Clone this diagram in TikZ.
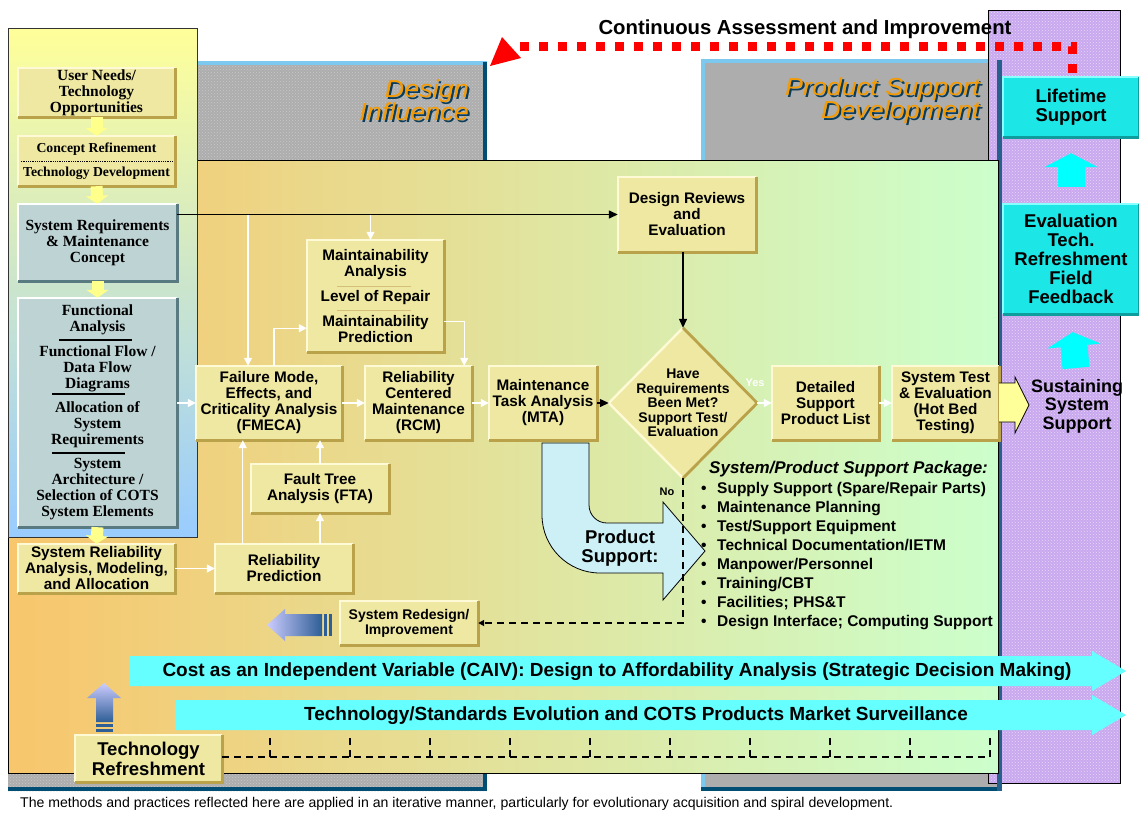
\documentclass[tikz,border=0pt]{standalone}
\usepackage{fontspec}
\setmainfont{Liberation Sans}
\newfontfamily\timesface{Liberation Serif}
\newfontfamily\widesans{Liberation Sans}[FakeStretch=1.1]
\usetikzlibrary{arrows.meta,shapes.geometric,calc,patterns}

\definecolor{boxfill}{HTML}{EEE8A2}
\definecolor{boxlight}{HTML}{FFFAD6}
\definecolor{boxdark}{HTML}{B9A24A}
\definecolor{slatefill}{HTML}{BED3D4}
\definecolor{slatedark}{HTML}{587A80}
\definecolor{cyanfill}{HTML}{1CE6E6}
\definecolor{cyanlight}{HTML}{8AFFFF}
\definecolor{cyandark}{HTML}{0E9C9C}
\definecolor{arrowcyan}{HTML}{00FFFF}
\definecolor{barcyan}{HTML}{66FFFF}
\definecolor{lavender}{HTML}{C9A8EE}
\definecolor{lavdots}{HTML}{E6D8FF}
\definecolor{panelgrey}{HTML}{ADADAD}
\definecolor{greydots}{HTML}{C8C8C8}
\definecolor{edgeblue}{HTML}{7CC8EE}
\definecolor{deepblue}{HTML}{004E74}
\definecolor{titleorange}{HTML}{F59A00}
\definecolor{titleblue}{HTML}{0B3C5A}
\definecolor{psblue}{HTML}{CCF0F6}
\definecolor{sustyellow}{HTML}{FFFF99}
\definecolor{paleyellow}{HTML}{FFFF8C}
\definecolor{dotred}{HTML}{FF0000}
\definecolor{rulegold}{HTML}{D4C078}
\definecolor{fadeblue}{HTML}{CCCCFF}
\definecolor{steelblue}{HTML}{2E5E96}
\definecolor{panelorange}{HTML}{F8C66C}
\definecolor{panelmid}{HTML}{E4E6A2}
\definecolor{panelgreen}{HTML}{CCFFCC}
\definecolor{leftyellow}{HTML}{FFFF99}
\definecolor{leftmid}{HTML}{D8EACC}
\definecolor{leftblue}{HTML}{99CCFF}

% raised-edge look for a rectangular box: light top/left, dark bottom/right
\newcommand{\bevel}[3]{%
  \draw[line width=2pt,#2] (#1.south west) -- (#1.north west) -- (#1.north east);
  \draw[line width=2.6pt,#3] (#1.north east) -- (#1.south east) -- (#1.south west);}
% orange title word with a dark drop shadow behind it
\newcommand{\shadowed}[1]{%
  \makebox[0pt][l]{\smash{\hspace*{2pt}\raisebox{-2pt}{\textcolor{titleblue}{#1}}}}\textcolor{titleorange}{#1}}
% large italic phase-title face with fixed line pitch
\newcommand{\titleface}{\widesans\itshape\fontsize{24.5}{22.5}\selectfont\lineskiplimit=-50pt\relax}

\begin{document}
\begin{tikzpicture}[x=1pt, y=-1pt,
  ybox/.style={fill=boxfill, inner sep=0pt, align=center, font=\bfseries\fontsize{15.3}{16}\selectfont},
  lbox/.style={fill=boxfill, inner sep=0pt, align=center, font=\timesface\bfseries\fontsize{15.5}{16}\selectfont},
  sbox/.style={lbox, fill=slatefill},
  cbox/.style={fill=cyanfill, inner sep=0pt, align=center, font=\bfseries\fontsize{18.5}{19}\selectfont},
  boxsize/.style 2 args={minimum width=#1, minimum height=#2},
  warrow/.style={draw=white, line width=1.3pt, -{Triangle[width=8pt,length=8pt]}},
  barrow/.style={draw=black, line width=1.3pt, -{Triangle[width=8pt,length=9pt]}},
  dashline/.style={draw=black, line width=1.5pt, dash pattern=on 7pt off 5pt},
  palearrow/.style={draw=paleyellow, line width=12pt, -{Triangle[width=22pt,length=8pt]}},
  cyanup/.style={draw=arrowcyan, line width=27pt, -{Triangle[width=53pt,length=14pt]}},
  blackrule/.style={draw=black, line width=1.6pt},
  goldrule/.style={draw=rulegold, line width=1.2pt},
  dotrule/.style={draw=black, line width=0.7pt, dash pattern=on 0.8pt off 1pt},
  titletext/.style={align=right, inner sep=0pt, font=\titleface},
  bartext/.style={font=\bfseries\fontsize{19}{20}\selectfont, inner sep=0pt},
  label/.style={inner sep=0pt, align=center}
  ]
\useasboundingbox (0,0) rectangle (1139,815);
\fill[white] (0,0) rectangle (1139,815);

% ---- backdrop panels ----
% Design Influence slab
\fill[panelgrey] (8,62) rectangle (487,791);
\fill[pattern=crosshatch dots, pattern color=greydots] (8,62) rectangle (487,791);
\fill[edgeblue] (8,61) rectangle (487,65);
\fill[deepblue] (483,62) rectangle (487,791);
\fill[deepblue] (8,787) rectangle (487,791);
% Product Support Development slab
\fill[panelgrey] (701,60) rectangle (1001,791);
\fill[edgeblue] (701,59) rectangle (1001,63);
\fill[edgeblue] (701,60) rectangle (705,791);
\fill[deepblue] (701,787) rectangle (1001,791);
% sustainment column
\fill[lavender] (988,10) rectangle (1120,783);
\fill[pattern=crosshatch dots, pattern color=lavdots] (988,10) rectangle (1120,783);
\draw[line width=0.8pt] (988,10) rectangle (1120,783);
\fill[deepblue!80!lavender] (997,60) rectangle (1002,791);
% main process panel
\shade[left color=panelorange, middle color=panelmid, right color=panelgreen] (8,160) rectangle (998,773);
\draw[line width=0.9pt] (8,160) rectangle (998,773);
% requirements column
\shade[top color=leftyellow, middle color=leftmid, bottom color=leftblue] (8,28) rectangle (197,537);
\draw[line width=0.9pt, black!80] (8,28) rectangle (197,537);

% ---- phase titles ----
\node[titletext, anchor=east] (ditext) at (469,100) {\shadowed{Design}\\\shadowed{Influence}};
\node[titletext, anchor=east] (pstext) at (980,100.5) {\shadowed{Product Support}\\\shadowed{Development}};

% ---- requirements column ----
\node[lbox, boxsize={157}{49}] (un) at (96.5,92.5) {User Needs/\\Technology\\Opportunities};
\bevel{un}{boxlight}{boxdark}
\node[lbox, boxsize={157}{50}, font=\timesface\bfseries\fontsize{13.7}{16}\selectfont] (cr) at (96.5,161) {Concept Refinement\\[7.5pt]Technology Development};
\bevel{cr}{boxlight}{boxdark}
\draw[dotrule] ($(cr.west)+(3,0)$) -- ($(cr.east)+(-3,0)$);
\node[sbox, boxsize={159}{77}] (sr) at (97.5,242.5) {System Requirements\\\& Maintenance\\Concept};
\bevel{sr}{white}{slatedark}
\node[sbox, boxsize={159}{229}] (fa) at (97.5,412.5) {Functional\\Analysis\\[9pt]Functional Flow /\\Data Flow\\Diagrams\\[8pt]Allocation of\\System\\Requirements\\[8pt]System\\Architecture /\\Selection of COTS\\System Elements};
\bevel{fa}{white}{slatedark}
\draw[blackrule] ($(fa.north)+(-38.5,42)$) -- ++(73,0);
\draw[blackrule] ($(fa.north)+(-45.5,96)$) -- ++(73,0);
\draw[blackrule] ($(fa.north)+(-45.5,155)$) -- ++(73,0);
\node[ybox, boxsize={157}{49}] (srel) at (96.5,568.5) {System Reliability\\Analysis, Modeling,\\and Allocation};
\bevel{srel}{boxlight}{boxdark}

\draw[palearrow] (un.south) -- (cr.north);
\draw[palearrow] (cr.south) -- (sr.north);
\draw[palearrow] (sr.south) -- (fa.north);
\draw[palearrow] (fa.south) -- (srel.north);

% ---- analysis boxes ----
\node[ybox, boxsize={138}{49}] (rp) at (284,568.5) {Reliability\\Prediction};
\bevel{rp}{boxlight}{boxdark}
\node[ybox, boxsize={138}{49}] (fta) at (320,488.5) {Fault Tree\\Analysis (FTA)};
\bevel{fta}{boxlight}{boxdark}
\node[ybox, boxsize={146}{74}] (fmeca) at (269,403) {Failure Mode,\\Effects, and\\Criticality Analysis\\(FMECA)};
\bevel{fmeca}{boxlight}{boxdark}
\node[ybox, boxsize={137}{112}] (ma) at (375.5,296) {Maintainability\\Analysis\\[8.5pt]Level of Repair\\[9pt]Maintainability\\Prediction};
\bevel{ma}{boxlight}{boxdark}
\draw[goldrule] ($(ma.north)+(-38.5,47)$) -- ++(74,0);
\draw[goldrule] ($(ma.north)+(-38.5,71)$) -- ++(74,0);
\node[ybox, boxsize={107}{74}] (rcm) at (418.5,403) {Reliability\\Centered\\Maintenance\\(RCM)};
\bevel{rcm}{boxlight}{boxdark}
\node[ybox, boxsize={108}{74}] (mta) at (543,403) {Maintenance\\Task Analysis\\(MTA)};
\bevel{mta}{boxlight}{boxdark}
\node[ybox, boxsize={138}{75}] (dr) at (687,214.5) {Design Reviews\\and\\Evaluation};
\bevel{dr}{boxlight}{boxdark}
\node[diamond, fill=boxfill, minimum width=148, minimum height=150, inner sep=0pt] (dia) at (683,403) {};
\draw[line width=2.4pt, boxlight] (dia.south) -- (dia.west) -- (dia.north);
\draw[line width=2.8pt, boxdark] (dia.north) -- (dia.east) -- (dia.south);
\node[label, font=\bfseries\fontsize{14}{14.5}\selectfont] (diatext) at (dia.center) {Have\\Requirements\\Been Met?\\Support Test/\\Evaluation};
\node[ybox, boxsize={107}{74}] (dsp) at (825.5,403) {Detailed\\Support\\Product List};
\bevel{dsp}{boxlight}{boxdark}
\node[ybox, boxsize={107}{74}] (ste) at (945.5,403) {System Test\\\& Evaluation\\(Hot Bed\\Testing)};
\bevel{ste}{boxlight}{boxdark}
\node[ybox, boxsize={138}{44}, font=\bfseries\fontsize{14}{15}\selectfont] (srd) at (409,623) {System Redesign/\\Improvement};
\bevel{srd}{boxlight}{boxdark}

% ---- flow connectors ----
\draw[barrow] (sr.east |- dr.west) -- (dr.west);
\coordinate (fmtop) at ($(fmeca.north)+(-21,0)$);
\draw[warrow] (fmtop |- dr.west) -- (fmtop);
\coordinate (matop) at ($(ma.north)+(-5,0)$);
\draw[warrow] (matop |- dr.west) -- (matop);
\coordinate (fmout) at ($(fmeca.north)+(5,0)$);
\coordinate (mainlet) at ($(ma.south west)+(0,-24)$);
\draw[warrow] (fmout) |- (mainlet);
\coordinate (maout) at ($(ma.south east)+(0,-31)$);
\coordinate (rcmin) at ($(rcm.north east)+(-8,0)$);
\draw[warrow] (maout) -| (rcmin);
\draw[warrow] (fa.east |- fmeca.west) -- (fmeca.west);
\draw[warrow] (fmeca.east) -- (rcm.west);
\draw[warrow] (rcm.east) -- (mta.west);
\draw[barrow] (mta.east) -- (dia.west);
\draw[warrow] (dia.east) -- (dsp.west);
\draw[warrow] (dsp.east) -- (ste.west);
\draw[warrow] (srel.east) -- (rp.west);
\coordinate (rpleft) at ($(rp.north west)+(28,0)$);
\draw[warrow] (rpleft) -- (rpleft |- fmeca.south);
\draw[warrow] (rp.north -| fta.south) -- (fta.south);
\draw[warrow] (fta.north) -- (fta.north |- fmeca.south);
\draw[barrow] (dia.north |- dr.south) -- (dia.north);
\node[label, text=white, font=\bfseries\fontsize{11}{12}\selectfont] (yes) at (755,383) {Yes};
\node[label, font=\bfseries\fontsize{11}{12}\selectfont] (no) at (667,492) {No};

% ---- product support hand-off ----
\draw[fill=psblue, line width=0.8pt] (542,443) -- (589,443) -- (589,505)
  .. controls (589,515) and (597,523) .. (607,523) -- (663,523) -- (663,502)
  -- (705,551) -- (663,600) -- (663,573) -- (600,573)
  .. controls (568,573) and (542,547) .. (542,515) -- cycle;
\node[label, font=\bfseries\fontsize{18.5}{19}\selectfont] (pslabel) at (620,548) {Product\\Support:};
\draw[dashline, -{Triangle[width=6pt,length=6pt]}] (dia.south) |- (srd.east);
\node[anchor=north west, align=left, inner sep=0pt, font=\bfseries\fontsize{15.5}{19}\selectfont] (pkg) at (701,461)
  {\hspace*{8pt}\textit{\fontsize{17}{19}\selectfont System/Product Support Package:}\\[1pt]
   \makebox[16pt][l]{•}Supply Support (Spare/Repair Parts)\\
   \makebox[16pt][l]{•}Maintenance Planning\\
   \makebox[16pt][l]{•}Test/Support Equipment\\
   \makebox[16pt][l]{•}Technical Documentation/IETM\\
   \makebox[16pt][l]{•}Manpower/Personnel\\
   \makebox[16pt][l]{•}Training/CBT\\
   \makebox[16pt][l]{•}Facilities; PHS\&T\\
   \makebox[16pt][l]{•}Design Interface; Computing Support};

% ---- redesign feedback arrow ----
\shade[left color=fadeblue, right color=steelblue] (267,625) -- (285,609) -- (285,614) -- (322,614) -- (322,636) -- (285,636) -- (285,641) -- cycle;
\fill[steelblue] (324,614) rectangle (327,636);
\fill[steelblue] (329,614) rectangle (332,636);

% ---- sustainment column ----
\fill[sustyellow] (999,383) -- (1015,383) -- (1015,377) -- (1029,405) -- (1015,433) -- (1015,422) -- (999,422) -- cycle;
\draw[line width=0.8pt] (999,383) -- (1015,383) -- (1015,377) -- (1029,405) -- (1015,433) -- (1015,422) -- (999,422);
\node[label, font=\bfseries\fontsize{18}{18.5}\selectfont] (sss) at (1077,406) {Sustaining\\System\\Support};
\node[cbox, boxsize={136}{60}] (life) at (1071,107) {Lifetime\\Support};
\bevel{life}{cyanlight}{cyandark}
\node[cbox, boxsize={136}{110}] (evalb) at (1071,259) {Evaluation\\Tech.\\Refreshment\\Field\\Feedback};
\bevel{evalb}{cyanlight}{cyandark}
\draw[cyanup, shorten <=17pt, shorten >=16pt] (evalb.north) -- (life.south);
\draw[cyanup, shorten <=11pt, shorten >=18pt] (sss.north) -- (evalb.south);

% ---- continuous assessment loop ----
\node[label, font=\bfseries\fontsize{20.3}{22}\selectfont] (cai) at (805,29) {Continuous Assessment and Improvement};
\coordinate (cahead) at (512,46);
\draw[dotred, line width=9pt, dash pattern=on 8.5pt off 10.5pt] ($(life.north)+(1,-4)$) |- (cahead);
\fill[dotred] (490,66) -- (502,37) -- (521,58) -- cycle;

% ---- cross-cutting bars ----
\fill[barcyan] (130,656) -- (1092,656) -- (1092,651) -- (1126,671) -- (1092,691) -- (1092,686) -- (130,686) -- cycle;
\node[bartext] (caiv) at (617,672) {Cost as an Independent Variable (CAIV): Design to Affordability Analysis (Strategic Decision Making)};
\fill[barcyan] (175,700) -- (1092,700) -- (1092,695) -- (1126,715) -- (1092,735) -- (1092,730) -- (175,730) -- cycle;
\node[bartext] (tsm) at (636,716) {Technology/Standards Evolution and COTS Products Market Surveillance};

% ---- technology refreshment ----
\node[ybox, boxsize={147}{47}, font=\bfseries\fontsize{18.5}{20}\selectfont] (tr) at (148.5,758.5) {Technology\\Refreshment};
\bevel{tr}{boxlight}{boxdark}
\shade[top color=fadeblue, bottom color=steelblue] (104,683) -- (121,698) -- (113,698) -- (113,722) -- (96,722) -- (96,698) -- (87,698) -- cycle;
\fill[steelblue] (96,724) rectangle (113,727);
\fill[steelblue] (96,729) rectangle (113,732);
\coordinate (dashend) at (990,757);
\draw[dashline] (tr.east |- dashend) -- (dashend);
\foreach \tx in {270,350,...,990} \draw[dashline] (\tx,757) -- (\tx,735);

\node[anchor=west, inner sep=0pt, font=\fontsize{14.1}{16}\selectfont] (note) at (20,804) {The methods and practices reflected here are applied in an iterative manner, particularly for evolutionary acquisition and spiral development.};
\end{tikzpicture}
\end{document}
